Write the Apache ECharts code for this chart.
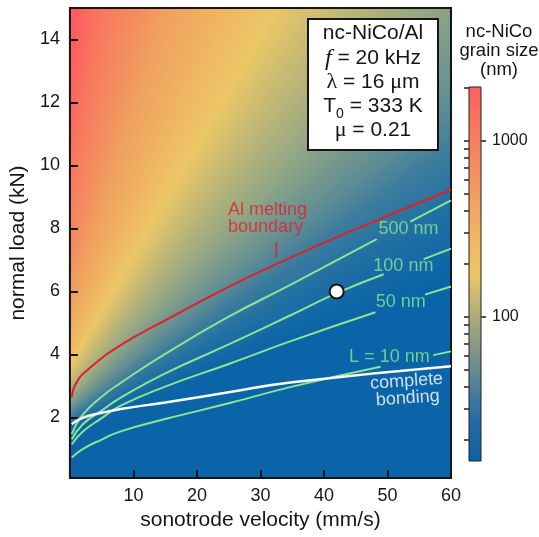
<!DOCTYPE html>
<html>
<head>
<meta charset="utf-8">
<script src="https://cdn.jsdelivr.net/npm/echarts@6/dist/echarts.min.js"></script>
<style>
  html, body { margin: 0; padding: 0; background: #fff; }
  #chart { width: 539px; height: 537px; }
</style>
</head>
<body>
<div id="chart"></div>
<script>
// curves: [sonotrode velocity (mm/s), normal load (kN)]
// '-' marks where a line is cut for its label
const meltBoundary = [[0.3, 2.65], [1, 3.1], [3, 3.55], [8, 4.3], [15, 5.08], [25, 6.15], [35, 7.1], [45, 7.98], [60, 9.23]];
const bonding = [[0.3, 1.79], [2, 1.99], [5, 2.15], [8, 2.27], [15, 2.48], [25, 2.8], [35, 3.12], [60, 3.63]];
const grain500 = [[0.3, 1.47], [2, 2.08], [5, 2.66], [8, 3.1], [15, 4.02], [25, 5.2], [35, 6.24], [48.3, 7.66], [51, '-'],
  [53.6, 8.22], [60, 8.89]];
const grain100 = [[0.3, 1.31], [2, 1.78], [5, 2.22], [8, 2.63], [15, 3.4], [25, 4.32], [35, 5.27], [42, 5.95], [49.4, 6.55],
  [52, '-'], [55.7, 7.03], [60, 7.36]];
const grain50 = [[0.3, 1.15], [2, 1.55], [5, 1.98], [8, 2.38], [15, 2.98], [25, 3.7], [35, 4.44], [48.1, 5.34], [52, '-'],
  [55.9, 5.9], [60, 6.16]];
const grain10 = [[0.3, 0.73], [2, 1.0], [5, 1.3], [8, 1.56], [15, 1.95], [25, 2.45], [35, 2.98], [48.9, 3.61], [53, '-'],
  [57.2, 3.98], [60, 4.1]];
const weldPoint = [[42, 6.0]];
const boundaryPointer = [[32.5, 7.09], [32.5, 7.56]];

const xTicks = [10, 20, 30, 40, 50, 60];
const yTicks = [2, 4, 6, 8, 10, 12, 14];

// colour bar (grain size, nm, log scale)
const cbarRange = [15.1, 2020];
const cbarMajor = [100, 1000];
const cbarMinor = [20, 30, 40, 50, 60, 70, 80, 90, 200, 300, 400, 500, 600, 700, 800, 900, 2000];

const FONT = '"Liberation Sans", Arial, sans-serif';
const SERIF = '"Liberation Serif", "DejaVu Serif", serif';
const GREEN = '#8ae690';
const RED = '#e21f27';
const INK = '#151515';

// background: colour changes with the angle seen from a point left of the axis
const bgCenter = [-7.6, 0.94];
const bgStops = [[90, '#ff5a60'], [83, '#ff5c60'], [79.7, '#f8785f'], [71.8, '#f0a060'], [64.6, '#efb862'],
  [60.2, '#ecc766'], [52.8, '#b8b478'], [46.5, '#8ea586'], [39, '#5e8c94'], [35, '#3c7c9e'], [30, '#2370a3'],
  [25, '#1268a6'], [22, '#0b64a8'], [-90, '#0b64a8']];

const lg = Math.log10;

const chart = echarts.init(document.getElementById('chart'), null, { renderer: 'canvas' });

function curve(name, data, color, width) {
  return {
    name: name,
    type: 'line',
    data: data,
    xAxisIndex: 0,
    yAxisIndex: 0,
    smooth: 0.5,
    connectNulls: false,
    symbol: 'none',
    silent: true,
    lineStyle: { color: color, width: width },
    z: 3
  };
}

function tag(text, at, color, extra) {
  return {
    value: at,
    label: Object.assign({ show: true, formatter: text, color: color }, extra || {})
  };
}

const option = {
  animation: false,
  textStyle: { fontFamily: FONT },
  grid: [
    { left: 69, top: 8, width: 382, height: 470, show: true, borderColor: INK, borderWidth: 2,
      backgroundColor: '#0b64a8', z: 0 },
    { left: 469, top: 87, width: 12, height: 374, show: true, borderColor: '#222', borderWidth: 1,
      backgroundColor: {
        type: 'linear', x: 0, y: 0, x2: 0, y2: 1,
        colorStops: [
          { offset: 0, color: '#ff6062' }, { offset: 0.144, color: '#f6805f' }, { offset: 0.285, color: '#f29d60' },
          { offset: 0.4, color: '#efb562' }, { offset: 0.5, color: '#ecc666' }, { offset: 0.614, color: '#aeaa7a' },
          { offset: 0.72, color: '#7a9389' }, { offset: 0.8, color: '#4f809b' }, { offset: 0.9, color: '#2169a4' },
          { offset: 1, color: '#0c63a8' }
        ]
      } }
  ],
  xAxis: [
    { type: 'value', gridIndex: 0, min: 0, max: 60,
      name: 'sonotrode velocity (mm/s)', nameLocation: 'middle', nameGap: 30,
      nameTextStyle: { fontSize: 21, color: INK, fontFamily: FONT },
      axisLine: { show: false },
      axisTick: { show: true, inside: true, length: 8, customValues: xTicks, lineStyle: { color: INK, width: 2 } },
      axisLabel: { customValues: xTicks, fontSize: 18, color: INK, margin: 9, fontFamily: FONT },
      splitLine: { show: false } },
    { type: 'value', gridIndex: 1, show: false, min: 0, max: 1 }
  ],
  yAxis: [
    { type: 'value', gridIndex: 0, min: 0.08, max: 15,
      name: 'normal load (kN)', nameLocation: 'middle', nameGap: 38,
      nameTextStyle: { fontSize: 21, color: INK, fontFamily: FONT },
      axisLine: { show: false },
      axisTick: { show: true, inside: true, length: 8, customValues: yTicks, lineStyle: { color: INK, width: 2 } },
      axisLabel: { customValues: yTicks, fontSize: 18, color: INK, margin: 10, fontFamily: FONT },
      splitLine: { show: false } },
    { type: 'value', gridIndex: 1, position: 'right', min: lg(cbarRange[0]), max: lg(cbarRange[1]),
      axisLine: { show: false },
      axisTick: { show: true, inside: true, length: 5, customValues: cbarMinor.concat(cbarMajor).map(lg),
        lineStyle: { color: '#222', width: 1.5 } },
      axisLabel: { show: false },
      splitLine: { show: false } },
    { type: 'value', gridIndex: 1, position: 'right', min: lg(cbarRange[0]), max: lg(cbarRange[1]),
      axisLine: { show: false },
      axisTick: { show: true, inside: false, length: 5, customValues: cbarMajor.map(lg),
        lineStyle: { color: '#222', width: 1.5 } },
      axisLabel: { customValues: cbarMajor.map(lg), formatter: v => String(Math.round(Math.pow(10, v))),
        fontSize: 16, color: INK, margin: 11, fontFamily: FONT },
      splitLine: { show: false } }
  ],
  graphic: [
    { type: 'rect', shape: { x: 308, y: 19, width: 130, height: 131 },
      style: { fill: '#fff', stroke: INK, lineWidth: 2 }, z: 10 },
    { type: 'text', x: 373, y: 33.5, z: 11,
      style: { text: 'nc-NiCo/Al', font: '21px ' + FONT, fill: INK, align: 'center', verticalAlign: 'middle' } },
    { type: 'text', x: 373, y: 58.3, z: 11,
      style: { text: '{i|f} = 20 kHz', font: '21px ' + FONT, fill: INK, align: 'center', verticalAlign: 'middle',
        rich: { i: { fontFamily: SERIF, fontStyle: 'italic', fontSize: 24, fill: INK } } } },
    { type: 'text', x: 373, y: 82.7, z: 11,
      style: { text: '{g|λ} = 16 {g|μ}m', font: '21px ' + FONT, fill: INK, align: 'center', verticalAlign: 'middle',
        rich: { g: { fontFamily: SERIF, fontSize: 22, fill: INK } } } },
    { type: 'text', x: 373, y: 106.7, z: 11,
      style: { text: 'T{s|0} = 333 K', font: '21px ' + FONT, fill: INK, align: 'center', verticalAlign: 'middle',
        rich: { s: { fontFamily: FONT, fontSize: 14, lineHeight: 29, verticalAlign: 'bottom', fill: INK } } } },
    { type: 'text', x: 373, y: 130.7, z: 11,
      style: { text: '{g|μ} = 0.21', font: '21px ' + FONT, fill: INK, align: 'center', verticalAlign: 'middle',
        rich: { g: { fontFamily: SERIF, fontSize: 22, fill: INK } } } },
    { type: 'text', x: 499, y: 22, z: 11,
      style: { text: 'nc-NiCo\ngrain size\n(nm)', font: '18.5px ' + FONT, fill: INK, align: 'center',
        verticalAlign: 'top', lineHeight: 19 } }
  ],
  series: [
    curve('L = 10 nm', grain10, GREEN, 2),
    curve('50 nm', grain50, GREEN, 2),
    curve('100 nm', grain100, GREEN, 2),
    curve('500 nm', grain500, GREEN, 2),
    curve('complete bonding', bonding, '#ffffff', 2.5),
    curve('Al melting boundary', meltBoundary, RED, 2),
    curve('pointer', boundaryPointer, RED, 1.5),
    {
      name: 'labels',
      type: 'scatter',
      xAxisIndex: 0,
      yAxisIndex: 0,
      symbolSize: 0,
      silent: true,
      z: 5,
      label: { show: true, position: 'inside', fontSize: 18, fontFamily: FONT },
      data: [
        tag('500 nm', [53.3, 7.98], GREEN),
        tag('100 nm', [52.5, 6.82], GREEN),
        tag('50 nm', [52.1, 5.66], GREEN),
        tag('L = 10 nm', [50.3, 3.91], GREEN),
        tag('complete\nbonding', [53.1, 2.88], '#ffffff', { lineHeight: 17, rotate: 4, align: 'center' }),
        tag('Al melting\nboundary', [24.9, 8.32], RED, { lineHeight: 17, align: 'left' })
      ]
    },
    {
      name: 'sample',
      type: 'scatter',
      xAxisIndex: 0,
      yAxisIndex: 0,
      data: weldPoint,
      symbol: 'circle',
      symbolSize: 14,
      silent: true,
      z: 6,
      itemStyle: { color: '#ffffff', borderColor: INK, borderWidth: 2, opacity: 1 }
    }
  ]
};

chart.setOption(option);

// paint the angular colour field behind the plot, centred through the axes
(function paintBackground() {
  const c = chart.convertToPixel({ gridIndex: 0 }, bgCenter);
  const cvs = document.createElement('canvas');
  cvs.width = chart.getWidth();
  cvs.height = chart.getHeight();
  const ctx = cvs.getContext('2d');
  let grad;
  if (ctx.createConicGradient) {
    grad = ctx.createConicGradient(-Math.PI / 2, c[0], c[1]);
    bgStops.forEach(s => grad.addColorStop((90 - s[0]) / 360, s[1]));
  } else {
    grad = ctx.createLinearGradient(69, 8, 451, 478);
    bgStops.forEach(s => grad.addColorStop(Math.min(1, (90 - s[0]) / 75), s[1]));
  }
  ctx.fillStyle = grad;
  ctx.fillRect(0, 0, cvs.width, cvs.height);
  chart.setOption({ grid: [{ backgroundColor: { image: cvs, repeat: 'no-repeat' } }, {}] });
})();
</script>
</body>
</html>
